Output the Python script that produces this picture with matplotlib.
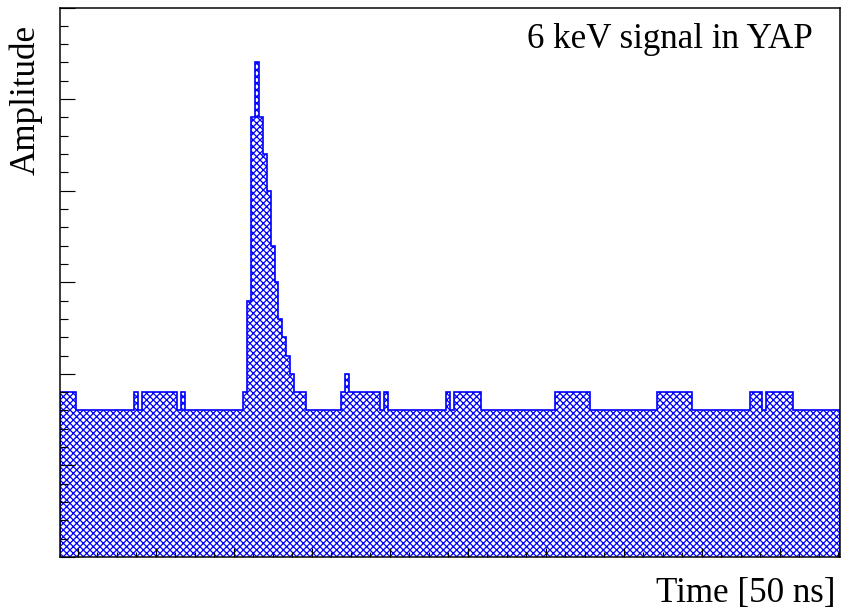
import matplotlib
matplotlib.use("Agg")
import matplotlib.pyplot as plt
from matplotlib.ticker import MultipleLocator, NullFormatter
import numpy as np

# Amplitude per time bin (200 bins)
amplitude = [
    9, 9, 9, 9, 8, 8, 8, 8, 8, 8, 8, 8, 8, 8, 8, 8, 8, 8, 8, 9,
    8, 9, 9, 9, 9, 9, 9, 9, 9, 9, 8, 9, 8, 8, 8, 8, 8, 8, 8, 8,
    8, 8, 8, 8, 8, 8, 8, 9, 14, 24, 27, 24, 22, 20, 17, 15, 13, 12, 11, 10,
    9, 9, 9, 8, 8, 8, 8, 8, 8, 8, 8, 8, 9, 10, 9, 9, 9, 9, 9, 9,
    9, 9, 8, 9, 8, 8, 8, 8, 8, 8, 8, 8, 8, 8, 8, 8, 8, 8, 8, 9,
    8, 9, 9, 9, 9, 9, 9, 9, 8, 8, 8, 8, 8, 8, 8, 8, 8, 8, 8, 8,
    8, 8, 8, 8, 8, 8, 8, 9, 9, 9, 9, 9, 9, 9, 9, 9, 8, 8, 8, 8,
    8, 8, 8, 8, 8, 8, 8, 8, 8, 8, 8, 8, 8, 9, 9, 9, 9, 9, 9, 9,
    9, 9, 8, 8, 8, 8, 8, 8, 8, 8, 8, 8, 8, 8, 8, 8, 8, 9, 9, 9,
    8, 9, 9, 9, 9, 9, 9, 9, 8, 8, 8, 8, 8, 8, 8, 8, 8, 8, 8, 8,
]
time_start = -4.5
title_text = "6 keV signal in YAP"
x_label = "Time [50 ns]"
y_label = "Amplitude"

DPI = 120


def main():
    plt.rcParams["font.family"] = ["Liberation Serif", "DejaVu Serif"]
    plt.rcParams["hatch.color"] = "#0000ff"
    plt.rcParams["hatch.linewidth"] = 0.75

    fig = plt.figure(figsize=(843 / DPI, 616 / DPI), dpi=DPI)
    ax = fig.add_axes([60 / 843, 1 - 557 / 616, 780 / 843, 549.5 / 616])
    plot_signal(ax)

    fig.text(26 / 843, 1 - 25 / 616, y_label, rotation=90,
             ha="center", va="top", fontsize=21)
    fig.text(836 / 843, 1 - 577 / 616, x_label,
             ha="right", va="top", fontsize=21)
    fig.savefig("out.png", dpi=DPI)


def plot_signal(ax):
    edges = time_start + np.arange(len(amplitude) + 1)
    ax.stairs(amplitude, edges, baseline=0, fill=True,
              facecolor="white", edgecolor="#0000ff",
              hatch="xxxxxx", linewidth=1.0)

    ax.set_xlim(edges[0], edges[-1])
    ax.set_ylim(0, 30)
    ax.xaxis.set_major_locator(MultipleLocator(20))
    ax.xaxis.set_minor_locator(MultipleLocator(5))
    ax.yaxis.set_major_locator(MultipleLocator(5))
    ax.yaxis.set_minor_locator(MultipleLocator(1))
    ax.xaxis.set_major_formatter(NullFormatter())
    ax.yaxis.set_major_formatter(NullFormatter())

    ax.tick_params(axis="both", which="both", direction="in",
                   top=False, right=False, width=0.7, color="black")
    ax.tick_params(axis="x", which="major", length=5.6)
    ax.tick_params(axis="x", which="minor", length=2.8)
    ax.tick_params(axis="y", which="major", length=9)
    ax.tick_params(axis="y", which="minor", length=4.5)
    for spine in ax.spines.values():
        spine.set_linewidth(0.9)

    ax.text(0.965, 0.926, title_text, transform=ax.transAxes,
            ha="right", va="baseline", fontsize=21)


if __name__ == "__main__":
    main()
